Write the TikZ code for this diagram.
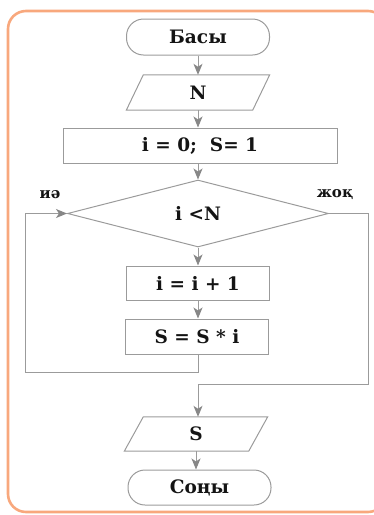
\documentclass[tikz,border=0pt]{standalone}
\usepackage{fontspec}
\setmainfont{DejaVu Serif}
\usetikzlibrary{arrows.meta,shapes.geometric}
\definecolor{frameor}{RGB}{248,168,125}
\definecolor{lineg}{RGB}{155,155,155}
\definecolor{tipg}{RGB}{135,135,135}
\definecolor{txt}{RGB}{20,20,20}
\tikzset{
  box/.style={draw=lineg, line width=1pt, rectangle, inner sep=0pt, text=txt, font=\bfseries\fontsize{18.5}{18.5}\selectfont},
  term/.style={box, rounded corners=17pt},
  para/.style={rectangle, inner sep=0pt, text=txt, font=\bfseries\fontsize{18.5}{18.5}\selectfont},
  dia/.style={box, diamond, aspect=3.9},
  lbl/.style={text=txt, font=\bfseries\fontsize{15}{15}\selectfont, inner sep=0pt},
  flow/.style={draw=lineg, line width=1pt},
  arr/.style={flow, -{Stealth[length=11pt,width=9pt,inset=3pt,fill=tipg,color=tipg]}},
}
\begin{document}
\begin{tikzpicture}[x=1pt,y=-1pt]
\clip (0,0) rectangle (374,515);
\useasboundingbox (0,0) rectangle (374,515);
% frame
\draw[frameor, line width=2.6pt, rounded corners=18pt] (8,11) rectangle (386,512);
% nodes
\node[term, minimum width=143pt, minimum height=36pt] (start) at (198,37) {Басы};
\node[para, minimum width=126pt, minimum height=35pt] (inN) at (198,92.5) {N};
\draw[lineg, line width=1pt] ([xshift=-8.5pt]inN.south west) -- ([xshift=8.5pt]inN.north west) -- ([xshift=8.5pt]inN.north east) -- ([xshift=-8.5pt]inN.south east) -- cycle;
\node[box, minimum width=274pt, minimum height=35pt] (init) at (200,145.5) {i = 0;\ \ S= 1};
\node[dia, minimum width=261pt, minimum height=67pt] (dec) at (198,213.5) {i <N};
\node[box, minimum width=143pt, minimum height=34pt] (inc) at (198,283) {i = i + 1};
\node[box, minimum width=143pt, minimum height=35pt] (mul) at (197,336.5) {S = S * i};
\node[para, minimum width=124pt, minimum height=34pt] (outS) at (196,434) {S};
\draw[lineg, line width=1pt] ([xshift=-9.5pt]outS.south west) -- ([xshift=9.5pt]outS.north west) -- ([xshift=9.5pt]outS.north east) -- ([xshift=-9.5pt]outS.south east) -- cycle;
\node[term, minimum width=143pt, minimum height=35pt] (stop) at (199.5,487.5) {Соңы};
\node[lbl] (yes) at (50,195) {иә};
\node[lbl] (no) at (335,195) {жоқ};
% helper coordinates
\coordinate (lb) at (198,372);
\coordinate (ll) at (25,372);
\coordinate (lt) at (25,213.5);
\coordinate (rt) at (368,213.5);
\coordinate (rb) at (368,384);
\coordinate (rm) at (198,384);
% connectors
\draw[arr] (start.south) -- (start.south |- inN.north);
\draw[arr] (inN.south) -- (inN.south |- init.north);
\draw[arr] (198,163) -- (dec.north);
\draw[arr] (dec.south) -- (dec.south |- inc.north);
\draw[arr] (inc.south) -- (inc.south |- mul.north);
\draw[flow] (lb |- mul.south) -- (lb) -- (ll) -- (lt);
\draw[arr] (lt) -- (dec.west);
\draw[flow] (dec.east) -- (rt) -- (rb) -- (rm);
\draw[arr] (rm) -- (rm |- outS.north);
\draw[arr] (outS.south) -- (outS.south |- stop.north);
\end{tikzpicture}
\end{document}
